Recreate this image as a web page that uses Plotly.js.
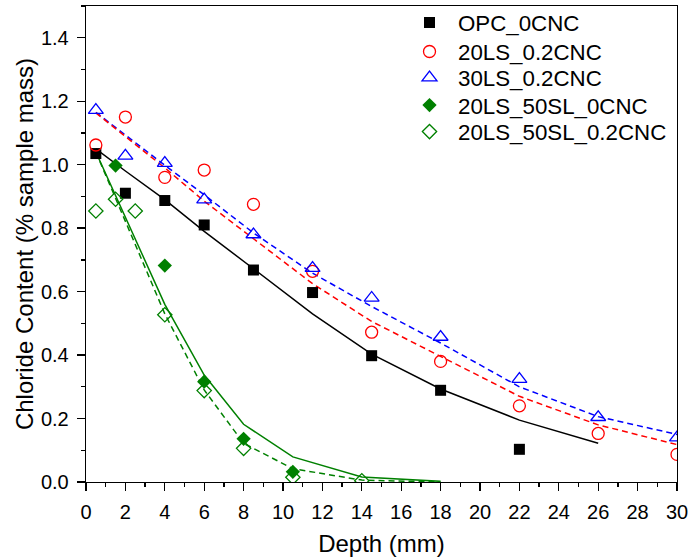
<!DOCTYPE html>
<html>
<head>
<meta charset="utf-8">
<script src="https://cdn.plot.ly/plotly-3.0.1.min.js"></script>
<style>html,body{margin:0;padding:0;background:#fff}#chart{width:688px;height:559px}</style>
</head>
<body>
<div id="chart"></div>
<script>
// ---- data ----
const seriesNames = ["OPC_0CNC", "20LS_0.2CNC", "30LS_0.2CNC", "20LS_50SL_0CNC", "20LS_50SL_0.2CNC"];

const depthOPC = [0.5, 2, 4, 6, 8.5, 11.5, 14.5, 18, 22];
const clOPC    = [1.035, 0.91, 0.887, 0.81, 0.668, 0.597, 0.398, 0.289, 0.103];

const depthLS  = [0.5, 2, 4, 6, 8.5, 11.5, 14.5, 18, 22, 26, 30];
const cl20LS   = [1.062, 1.15, 0.96, 0.983, 0.875, 0.664, 0.472, 0.38, 0.24, 0.153, 0.087];
const cl30LS   = [1.172, 1.028, 1.005, 0.89, 0.78, 0.674, 0.58, 0.457, 0.324, 0.204, 0.14];

const depthSL0 = [1.5, 4, 6, 8, 10.5];
const clSL0    = [0.997, 0.682, 0.316, 0.136, 0.032];

const depthSL2 = [0.5, 1.5, 2.5, 4, 6, 8, 10.5, 14];
const clSL2    = [0.854, 0.891, 0.854, 0.527, 0.288, 0.106, 0.015, 0.004];

// fitted curves
const fitOPCx  = [0.5, 2, 4, 6, 8.5, 11.5, 14.5, 18, 22, 26];
const fitOPCy  = [1.05, 0.98, 0.89, 0.79, 0.672, 0.53, 0.403, 0.293, 0.195, 0.122];

const fitLSx   = [0.5, 2, 4, 6, 8.5, 11.5, 14.5, 18, 22, 26, 30];
const fit20LSy = [1.163, 1.09, 0.99, 0.885, 0.766, 0.625, 0.506, 0.395, 0.27, 0.18, 0.118];
const fit30LSy = [1.165, 1.093, 0.998, 0.905, 0.785, 0.658, 0.553, 0.438, 0.30, 0.206, 0.15];

const fitSLx   = [0.5, 4, 6, 8, 10.5, 14, 18];
const fitSL0y  = [1.04, 0.56, 0.337, 0.182, 0.079, 0.016, 0.002];
const fitSL2y  = [1.04, 0.53, 0.29, 0.122, 0.042, 0.006, 0.0];

const xTicks = [0, 2, 4, 6, 8, 10, 12, 14, 16, 18, 20, 22, 24, 26, 28, 30];
const yTicks = [0, 0.2, 0.4, 0.6, 0.8, 1.0, 1.2, 1.4];

// ---- traces ----
const green = "#008000";
const dash = "6px,4px";
function fit(x, y, color, d) {
  return {x: x, y: y, type: "scatter", mode: "lines", showlegend: false, hoverinfo: "skip",
          line: {color: color, width: 1.5, dash: d}};
}
function pts(name, x, y, symbol, color, size, lw, leg) {
  return {x: x, y: y, name: name, type: "scatter", mode: "markers", legend: leg,
          marker: {symbol: symbol, color: color, size: size, line: {color: color, width: lw}}};
}
const data = [
  fit(fitOPCx, fitOPCy, "#000000", "solid"),
  fit(fitLSx, fit30LSy, "#0000FF", dash),
  fit(fitLSx, fit20LSy, "#FF0000", dash),
  fit(fitSLx, fitSL0y, green, "solid"),
  fit(fitSLx, fitSL2y, green, dash),
  pts(seriesNames[0], depthOPC, clOPC, "square", "#000000", 11, 0, "legend"),
  pts(seriesNames[1], depthLS, cl20LS, "circle-open", "#FF0000", 12, 1.3, "legend2"),
  pts(seriesNames[2], depthLS, cl30LS, "triangle-up-open", "#0000FF", 13, 1.3, "legend3"),
  pts(seriesNames[3], depthSL0, clSL0, "diamond", green, 11, 0, "legend4"),
  pts(seriesNames[4], depthSL2, clSL2, "diamond-open", green, 11, 1.3, "legend5")
];

const font = "Liberation Sans, Arial, sans-serif";
const plotTop = 6, plotBottom = 481.7;
const rowY = [22.5, 51.5, 77.5, 105, 131.5];
function leg(i) {
  return {x: 0.533, y: (plotBottom - rowY[i]) / (plotBottom - plotTop), xanchor: "left", yanchor: "middle",
          bgcolor: "rgba(0,0,0,0)", borderwidth: 0, itemwidth: 47,
          font: {family: font, size: 22.3, color: "#000"}};
}
const layout = {
  width: 688, height: 559,
  margin: {l: 86, r: 11, t: 6, b: 77, autoexpand: false},
  paper_bgcolor: "#fff", plot_bgcolor: "#fff",
  font: {family: font, color: "#000", size: 20},
  showlegend: true,
  legend: leg(0), legend2: leg(1), legend3: leg(2), legend4: leg(3), legend5: leg(4),
  xaxis: {
    range: [0, 30], tickvals: xTicks, ticktext: xTicks.map(String), ticklabeloverflow: "allow",
    showgrid: false, zeroline: false, showline: true, mirror: true,
    linecolor: "#000", linewidth: 1.3,
    ticks: "outside", ticklen: 8, tickwidth: 1.3, tickcolor: "#000", ticklabelstandoff: 4,
    minor: {dtick: 1, ticks: "outside", ticklen: 4, tickwidth: 1.3, tickcolor: "#000", showgrid: false},
    title: {text: "Depth (mm)", font: {family: font, size: 24}, standoff: 13}
  },
  yaxis: {
    range: [0, 1.5], tickvals: yTicks, ticktext: yTicks.map(v => v.toFixed(1)), ticklabeloverflow: "allow",
    showgrid: false, zeroline: false, showline: true, mirror: true,
    linecolor: "#000", linewidth: 1.3,
    ticks: "outside", ticklen: 8, tickwidth: 1.3, tickcolor: "#000", ticklabelstandoff: 4,
    minor: {dtick: 0.1, ticks: "outside", ticklen: 4, tickwidth: 1.3, tickcolor: "#000", showgrid: false},
    title: {text: "Chloride Content (% sample mass)", font: {family: font, size: 24}, standoff: 0}
  }
};
Plotly.newPlot("chart", data, layout, {displayModeBar: false, staticPlot: true});
</script>
</body>
</html>
